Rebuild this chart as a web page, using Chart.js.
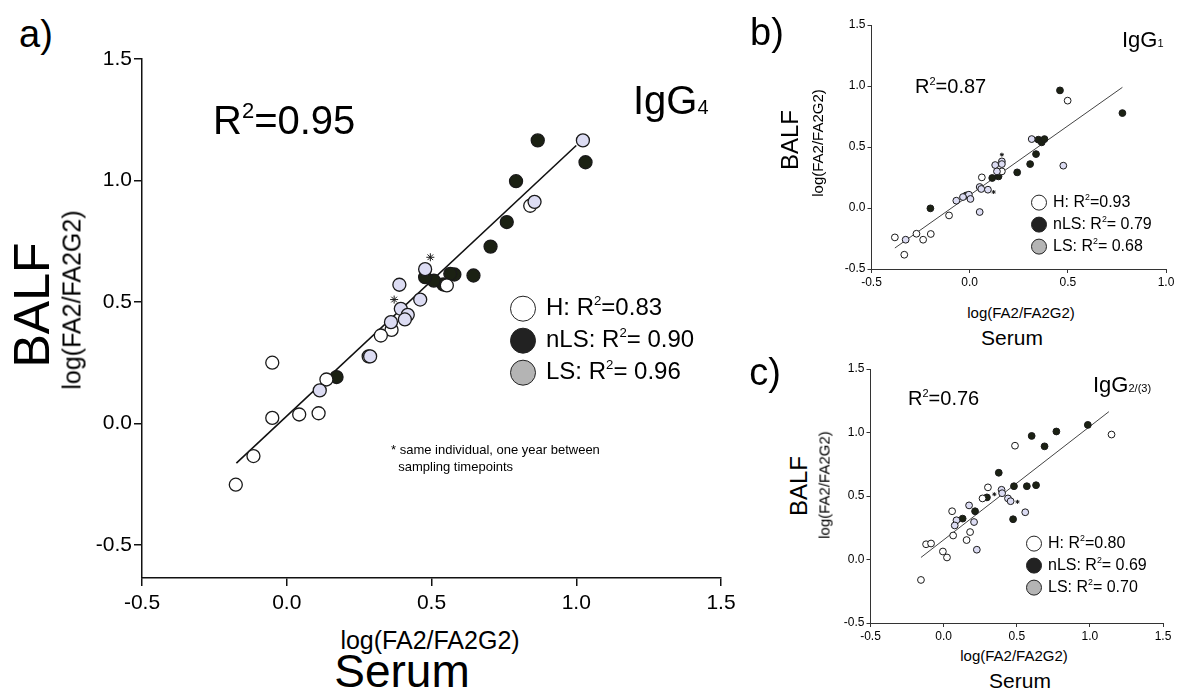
<!DOCTYPE html>
<html>
<head>
<meta charset="utf-8">
<script src="https://cdn.jsdelivr.net/npm/chart.js@4.4.1/dist/chart.umd.min.js"></script>
<style>
  html, body { margin: 0; padding: 0; background: #fff; }
  body { width: 1184px; height: 691px; position: relative; overflow: hidden;
         font-family: "Liberation Sans", Arial, sans-serif; color: #000; }
  canvas { position: absolute; }
  .t { position: absolute; white-space: nowrap; line-height: 1; }
  .c { transform: translate(-50%, -50%); }
  .l { transform: translateY(-50%); }
  .r { transform: translate(-50%, -50%) rotate(-90deg); }
  .dot { display: inline-block; border: 1px solid #222; border-radius: 50%; vertical-align: middle; }
  sup { font-size: 55%; vertical-align: 0.75em; line-height: 0; }
  .sub { font-size: 50%; }
</style>
</head>
<body>

<canvas id="chartA" width="669" height="579" style="left:82px; top:39px;"></canvas>
<canvas id="chartB" width="360" height="284" style="left:821px; top:5px;"></canvas>
<canvas id="chartC" width="361" height="294" style="left:820px; top:349px;"></canvas>

<!-- panel a text -->
<div class="t c" style="left:36px; top:34px; font-size:38px;">a)</div>
<div class="t l" style="left:213px; top:120px; font-size:40px;">R<sup>2</sup>=0.95</div>
<div class="t l" style="left:633px; top:100px; font-size:40px;">IgG<span class="sub">4</span></div>
<div class="t r" style="left:32px; top:305px; font-size:50px;">BALF</div>
<div class="t r" style="left:72px; top:300px; font-size:25px;">log(FA2/FA2G2)</div>
<div class="t c" style="left:430px; top:640px; font-size:25px;">log(FA2/FA2G2)</div>
<div class="t c" style="left:402px; top:671px; font-size:46px;">Serum</div>
<div class="t" style="left:391px; top:441px; font-size:13px; line-height:17px;">* same individual, one year between<br>&nbsp;&nbsp;sampling timepoints</div>
<div id="legendA"></div>

<!-- panel b text -->
<div class="t c" style="left:767px; top:32px; font-size:38px;">b)</div>
<div class="t l" style="left:915px; top:86px; font-size:20px;">R<sup>2</sup>=0.87</div>
<div class="t l" style="left:1122px; top:40px; font-size:22px;">IgG<span class="sub">1</span></div>
<div class="t r" style="left:790px; top:140px; font-size:24px;">BALF</div>
<div class="t r" style="left:817px; top:143px; font-size:15px;">log(FA2/FA2G2)</div>
<div class="t c" style="left:1021px; top:312px; font-size:15px;">log(FA2/FA2G2)</div>
<div class="t c" style="left:1012px; top:337px; font-size:21px;">Serum</div>
<div id="legendB"></div>

<!-- panel c text -->
<div class="t c" style="left:765px; top:372px; font-size:38px;">c)</div>
<div class="t l" style="left:908px; top:398px; font-size:20px;">R<sup>2</sup>=0.76</div>
<div class="t l" style="left:1093px; top:385px; font-size:22px;">IgG<span class="sub">2/(3)</span></div>
<div class="t r" style="left:799px; top:486px; font-size:24px;">BALF</div>
<div class="t r" style="left:824px; top:485px; font-size:15px;">log(FA2/FA2G2)</div>
<div class="t c" style="left:1014px; top:655px; font-size:15px;">log(FA2/FA2G2)</div>
<div class="t c" style="left:1020px; top:680px; font-size:21px;">Serum</div>
<div id="legendC"></div>

<script>
'use strict';

/* #################### data #################### */
let yTicks = [-0.5, 0, 0.5, 1, 1.5];
let xTicksWide = [-0.5, 0, 0.5, 1, 1.5];
let xTicksShort = [-0.5, 0, 0.5, 1];
let groupNames = ['H', 'nLS', 'LS'];

//  a) IgG4  [serum, balf]
let igg4H = [[0.553, 0.568], [0.362, 0.385], [0.325, 0.362], [0.283, 0.276], [0.137, 0.181],
  [-0.050, 0.250], [-0.050, 0.023], [0.043, 0.037], [0.110, 0.042], [-0.115, -0.134],
  [-0.176, -0.252], [0.841, 0.896]];
let igg4NLS = [[0.867, 1.165], [1.032, 1.075], [0.792, 0.997], [0.760, 0.829], [0.704, 0.728],
  [0.645, 0.609], [0.579, 0.613], [0.565, 0.616], [0.541, 0.572], [0.508, 0.588],
  [0.478, 0.602], [0.172, 0.191]];
let igg4LS = [[1.023, 1.165], [0.856, 0.912], [0.478, 0.635], [0.389, 0.571], [0.394, 0.472],
  [0.418, 0.447], [0.408, 0.428], [0.360, 0.417], [0.288, 0.276], [0.114, 0.136], [0.461, 0.510]];
let igg4Star = [[0.496, 0.684], [0.371, 0.510]];
let igg4Fit = [[-0.174, -0.163], [1.0, 1.144]];
let igg4R2 = ['0.83', '0.90', '0.96'];

//  b) IgG1
let igg1H = [[0.499, 0.880], [0.164, 0.300], [0.062, 0.251], [-0.105, -0.061], [-0.198, -0.213],
  [-0.237, -0.260], [-0.271, -0.211], [-0.381, -0.241], [-0.333, -0.383]];
let igg1NLS = [[0.460, 0.964], [0.778, 0.778], [0.350, 0.560], [0.367, 0.538], [0.381, 0.565],
  [0.338, 0.442], [0.308, 0.360], [0.242, 0.292], [0.147, 0.259], [0.115, 0.246],
  [-0.017, 0.103], [-0.200, -0.003]];
let igg1LS = [[0.316, 0.565], [0.477, 0.347], [0.130, 0.352], [0.164, 0.382], [0.164, 0.360],
  [0.139, 0.300], [0.051, 0.172], [0.059, 0.156], [0.093, 0.150], [-0.004, 0.109],
  [0.004, 0.074], [-0.034, 0.090], [-0.068, 0.060], [0.051, -0.033], [-0.326, -0.260]];
let igg1Star = [[0.164, 0.437], [0.122, 0.131]];
let igg1Fit = [[-0.381, -0.328], [0.778, 0.989]];
let igg1R2 = ['0.93', '0.79', '0.68'];

//  c) IgG2/(3)
let igg2H = [[1.148, 0.984], [0.488, 0.896], [0.303, 0.568], [0.266, 0.481], [0.058, 0.380],
  [0.065, 0.189], [0.181, 0.216], [0.157, 0.153], [-0.120, 0.120], [-0.086, 0.126],
  [-0.005, 0.063], [0.023, 0.016], [-0.155, -0.161]];
let igg2NLS = [[0.986, 1.060], [0.771, 1.008], [0.602, 0.973], [0.690, 0.891], [0.377, 0.683],
  [0.481, 0.577], [0.569, 0.577], [0.632, 0.585], [0.296, 0.489], [0.215, 0.380],
  [0.130, 0.322], [0.475, 0.317]];
let igg2LS = [[0.396, 0.549], [0.400, 0.522], [0.440, 0.481], [0.458, 0.459], [0.558, 0.372],
  [0.174, 0.426], [0.088, 0.309], [0.076, 0.268], [0.208, 0.295], [0.227, 0.077]];
let igg2Star = [[0.347, 0.514], [0.505, 0.454]];
let igg2Fit = [[-0.155, 0.016], [1.130, 1.164]];
let igg2R2 = ['0.80', '0.69', '0.70'];

/* #################### styles #################### */
let fillH = '#ffffff';
let fillNLS = '#1b2113';
let fillLS = '#dcdcf3';
let legendFills = ['#ffffff', '#222222', '#b4b4b4'];

function toPoints(pairs) {
  return pairs.map(p => ({ x: p[0], y: p[1] }));
}

function pointSet(pairs, fill, r, bw) {
  return {
    data: toPoints(pairs),
    backgroundColor: fill,
    borderColor: '#1a1a1a',
    borderWidth: bw,
    pointRadius: r,
    showLine: false
  };
}

//  build one scatter panel, padding/afterFit pin the plot rectangle inside the canvas
function makePanel(id, p) {
  let datasets = [
    pointSet(p.star, '#000', p.starR, 1),
    pointSet(p.ls, fillLS, p.r, p.bw),
    pointSet(p.h, fillH, p.r, p.bw),
    pointSet(p.nls, fillNLS, p.r, p.bw),
    {
      data: toPoints(p.fit),
      showLine: true,
      borderColor: p.lineColor,
      borderWidth: p.lineW,
      pointRadius: 0
    }
  ];
  datasets[0].pointStyle = 'star';

  let tickFont = { family: '"Liberation Sans", Arial, sans-serif', size: p.font };

  new Chart(document.getElementById(id), {
    type: 'scatter',
    data: { datasets: datasets },
    options: {
      responsive: false,
      animation: false,
      events: [],
      layout: { padding: { top: p.padTop, right: p.padRight, left: 0, bottom: 0 } },
      plugins: { legend: { display: false }, tooltip: { enabled: false } },
      scales: {
        x: {
          type: 'linear', min: p.xMin, max: p.xMax,
          afterFit: s => { s.height = p.xH; },
          afterBuildTicks: s => { s.ticks = p.xTicks.map(v => ({ value: v })); },
          grid: { display: true, drawOnChartArea: false, drawTicks: true, tickLength: p.tickLen, color: p.axisColor, lineWidth: p.axisW },
          border: { display: true, color: p.axisColor, width: p.axisW },
          ticks: { color: '#000', font: tickFont, padding: p.xPad, maxRotation: 0, callback: v => v.toFixed(1) }
        },
        y: {
          type: 'linear', min: p.yMin, max: p.yMax,
          afterFit: s => { s.width = p.yW; },
          afterBuildTicks: s => { s.ticks = yTicks.map(v => ({ value: v })); },
          grid: { display: true, drawOnChartArea: false, drawTicks: true, tickLength: p.tickLen, color: p.axisColor, lineWidth: p.axisW },
          border: { display: true, color: p.axisColor, width: p.axisW },
          ticks: { color: '#000', font: tickFont, padding: 2, callback: v => v.toFixed(1) }
        }
      }
    }
  });
}

//  html legend with the three group circles
function makeLegend(id, left, top, gap, r, size, r2) {
  let box = document.getElementById(id);
  for (let idx = 0; idx < groupNames.length; idx++) {
    let row = document.createElement('div');
    row.className = 't l';
    row.style.left = (left - r) + 'px';
    row.style.top = (top + idx * gap) + 'px';
    row.style.fontSize = size + 'px';
    let sep = idx === 0 ? '=' : '= ';
    row.innerHTML = '<span class="dot" style="width:' + (2 * r) + 'px;height:' + (2 * r) +
      'px;background:' + legendFills[idx] + ';margin-right:' + Math.round(r * 0.8) + 'px"></span>' +
      groupNames[idx] + ': R<sup>2</sup>' + sep + r2[idx];
    box.appendChild(row);
  }
}

/* #################### primary executable code #################### */
makePanel('chartA', {
  h: igg4H, nls: igg4NLS, ls: igg4LS, star: igg4Star, fit: igg4Fit,
  r: 6.5, bw: 1.3, starR: 4, lineW: 1.6, lineColor: '#111',
  xMin: -0.5, xMax: 1.5, yMin: -0.636, yMax: 1.5, xTicks: xTicksWide,
  padTop: 20, padRight: 30, xH: 40, yW: 60,
  font: 21, tickLen: 8, axisColor: '#111', axisW: 1.5, xPad: 5
});

makePanel('chartB', {
  h: igg1H, nls: igg1NLS, ls: igg1LS, star: igg1Star, fit: igg1Fit,
  r: 3.4, bw: 1, starR: 2, lineW: 1, lineColor: '#444',
  xMin: -0.5, xMax: 1.0, yMin: -0.5, yMax: 1.5, xTicks: xTicksShort,
  padTop: 20, padRight: 15, xH: 20, yW: 50.5,
  font: 12, tickLen: 4, axisColor: '#333', axisW: 1, xPad: 2
});

makePanel('chartC', {
  h: igg2H, nls: igg2NLS, ls: igg2LS, star: igg2Star, fit: igg2Fit,
  r: 3.4, bw: 1, starR: 2, lineW: 1, lineColor: '#444',
  xMin: -0.5, xMax: 1.5, yMin: -0.5, yMax: 1.5, xTicks: xTicksWide,
  padTop: 20, padRight: 18, xH: 20, yW: 50.5,
  font: 12, tickLen: 4, axisColor: '#333', axisW: 1, xPad: 2
});

makeLegend('legendA', 522, 308, 32, 12, 24, igg4R2);
makeLegend('legendB', 1038, 202, 22, 7, 16, igg1R2);
makeLegend('legendC', 1033, 543, 22, 7, 16, igg2R2);
</script>
</body>
</html>
